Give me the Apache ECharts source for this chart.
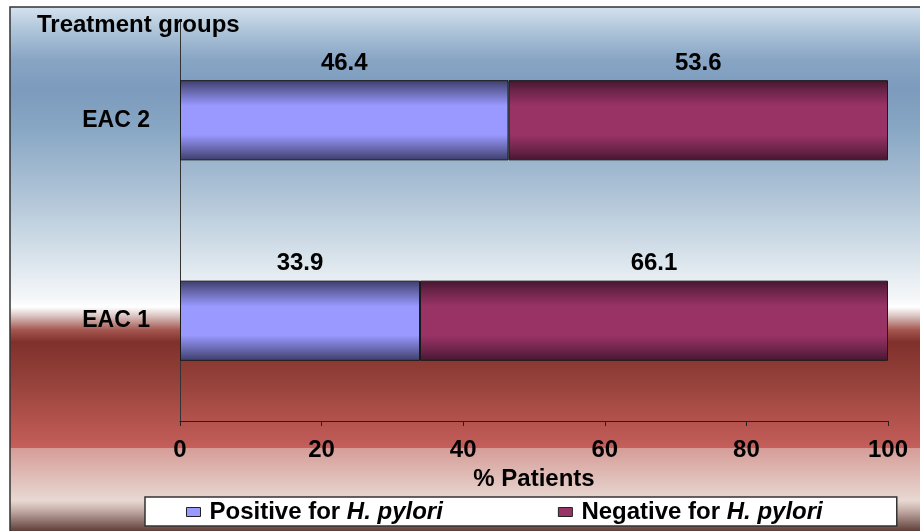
<!DOCTYPE html>
<html><head><meta charset="utf-8">
<script src="https://cdn.jsdelivr.net/npm/echarts/dist/echarts.min.js"></script>
<style>html,body{margin:0;padding:0;background:#fff}#c{width:920px;height:531px}</style>
</head><body><div id="c"></div>
<script>
const categories = ['EAC 1', 'EAC 2'];
const positive = [33.9, 46.4];
const negative = [66.1, 53.6];
const seriesNames = ['Positive for H. pylori', 'Negative for H. pylori'];
const xMin = 0, xMax = 100, xStep = 20;

const FONT = '"Liberation Sans", Arial, sans-serif';
const G = echarts.graphic;

function barGrad(edge, mid, center) {
  return new G.LinearGradient(0, 0, 0, 1, [
    {offset: 0, color: edge}, {offset: 0.13, color: mid},
    {offset: 0.32, color: center}, {offset: 0.68, color: center},
    {offset: 0.87, color: mid}, {offset: 1, color: edge}
  ]);
}
const posGrad = barGrad('#3d3d6b', '#6464a8', '#9999ff');
const negGrad = barGrad('#451630', '#6c2449', '#993366');
const flat = ['#9999ff', '#993366'];

const BG_TOP = 7, BG_H = 530;
function yy(y) { return Math.max(0, Math.min(1, (y - BG_TOP) / BG_H)); }
const bgStops = [
  [8, '#d4e2ee'], [30, '#b0c6da'], [60, '#88a5c4'], [90, '#7c9bbd'],
  [130, '#88a7c4'], [200, '#b2c6d8'], [260, '#dae4ec'], [300, '#f6f8fa'],
  [307, '#ffffff'], [316, '#d9c3c0'], [330, '#a4554e'], [342, '#80302b'],
  [380, '#95413b'], [420, '#b3524d'], [447, '#c45f5b'], [448, '#d69d98'],
  [500, '#e8d8d2'], [510, '#c4aca6'], [531, '#5c3a35'], [537, '#5c3a35']
].map(s => ({offset: yy(s[0]), color: s[1]}));

const lbl = {
  show: true, position: 'top', distance: 5,
  fontFamily: FONT, fontWeight: 'bold', fontSize: 24, color: '#000',
  formatter: p => p.value.toFixed(1)
};

const chart = echarts.init(document.getElementById('c'), null, {renderer: 'canvas'});
chart.setOption({
  animation: false,
  backgroundColor: '#fff',
  graphic: [{
    type: 'rect', z: -10, silent: true,
    shape: {x: 10, y: BG_TOP, width: 930, height: BG_H},
    style: {fill: new G.LinearGradient(0, 0, 0, 1, bgStops), stroke: '#333', lineWidth: 1.5}
  }],
  title: {
    text: 'Treatment groups', left: 37, top: 13, padding: 0,
    textStyle: {fontFamily: FONT, fontWeight: 'bold', fontSize: 24, color: '#000'}
  },
  grid: {left: 180, right: 32, top: 20, bottom: 110, containLabel: false},
  legend: {
    data: seriesNames.map((n, i) => ({name: n, icon: 'rect', itemStyle: {color: flat[i], borderColor: '#222', borderWidth: 1}})),
    left: 145, top: 497,
    padding: [3, 74, 2, 41],
    itemGap: 115, itemWidth: 14, itemHeight: 9,
    backgroundColor: '#fff', borderColor: '#333', borderWidth: 1.5,
    formatter: n => '{n|' + n.replace(' H. pylori', '') + ' }{i|H. pylori}',
    textStyle: {
      rich: {
        n: {fontFamily: FONT, fontWeight: 'bold', fontSize: 24, color: '#000', padding: [0, 0, 0, 4]},
        i: {fontFamily: FONT, fontWeight: 'bold', fontStyle: 'italic', fontSize: 24, color: '#000'}
      }
    }
  },
  xAxis: {
    type: 'value', min: xMin, max: xMax, interval: xStep,
    axisLine: {show: true, lineStyle: {color: '#222', width: 1}},
    axisTick: {show: true, length: 5, lineStyle: {color: '#222'}},
    splitLine: {show: false},
    axisLabel: {margin: 17, fontFamily: FONT, fontWeight: 'bold', fontSize: 24, color: '#000'},
    name: '% Patients', nameLocation: 'middle', nameGap: 46,
    nameTextStyle: {fontFamily: FONT, fontWeight: 'bold', fontSize: 24, color: '#000'}
  },
  yAxis: {
    type: 'category', data: categories,
    axisLine: {show: true, lineStyle: {color: '#333', width: 1}},
    axisTick: {show: false},
    splitLine: {show: false},
    axisLabel: {margin: 30, fontFamily: FONT, fontWeight: 'bold', fontSize: 23, color: '#000', padding: [6, 0, 0, 0]}
  },
  series: [
    {name: seriesNames[0], type: 'bar', stack: 'total', data: positive, barWidth: '40%',
     itemStyle: {color: posGrad, borderColor: '#1a1a1a', borderWidth: 1}, label: lbl},
    {name: seriesNames[1], type: 'bar', stack: 'total', data: negative, barWidth: '40%',
     itemStyle: {color: negGrad, borderColor: '#1a1a1a', borderWidth: 1}, label: lbl}
  ]
});
</script></body></html>
